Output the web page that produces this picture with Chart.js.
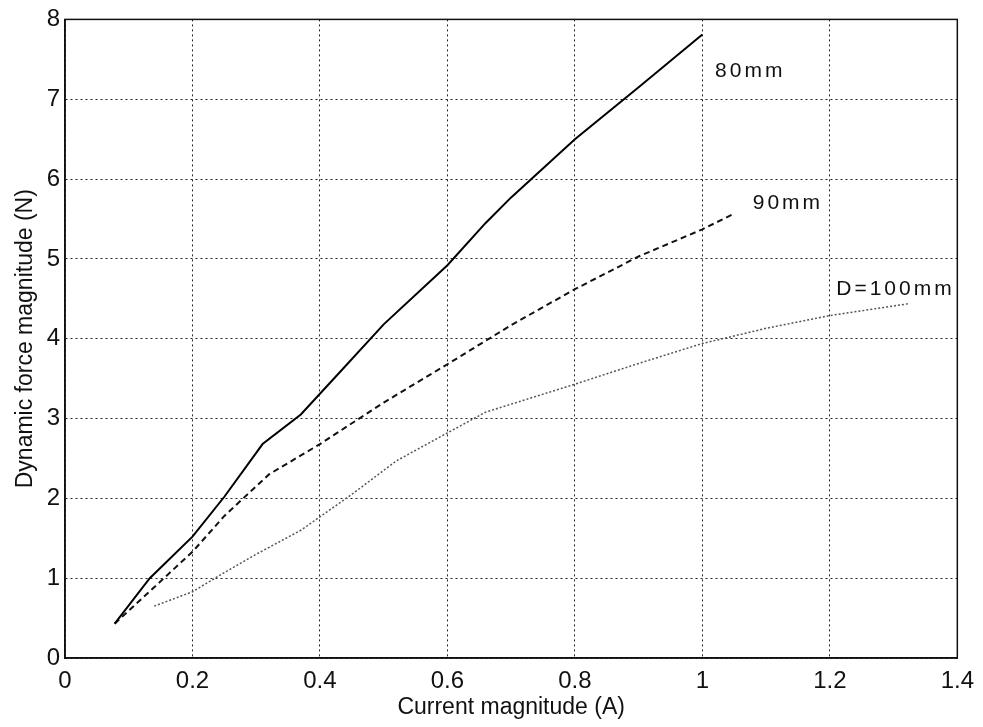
<!DOCTYPE html>
<html>
<head>
<meta charset="utf-8">
<script src="https://cdn.jsdelivr.net/npm/chart.js@4.4.1/dist/chart.umd.min.js"></script>
<style>
  html,body{margin:0;padding:0;background:#fff;}
  #wrap{width:983px;height:727px;position:relative;}
</style>
</head>
<body>
<div id="wrap"><canvas id="cv" width="983" height="727"></canvas></div>
<script>
/* force vs current, three coil spacings */
const current80 = [0.078, 0.133, 0.2, 0.25, 0.31, 0.37, 0.43, 0.5, 0.6, 0.66, 0.7, 0.8, 0.9, 1.0];
const force80   = [0.43, 1.0, 1.52, 2.02, 2.68, 3.05, 3.57, 4.18, 4.92, 5.45, 5.77, 6.5, 7.15, 7.81];

const current90 = [0.078, 0.2, 0.25, 0.32, 0.4, 0.5, 0.6, 0.7, 0.8, 0.9, 1.0, 1.048];
const force90   = [0.43, 1.33, 1.78, 2.3, 2.68, 3.2, 3.68, 4.17, 4.62, 5.03, 5.37, 5.56];

const current100 = [0.14, 0.2, 0.25, 0.3, 0.37, 0.45, 0.52, 0.6, 0.66, 0.8, 0.9, 1.0, 1.1, 1.2, 1.325];
const force100   = [0.65, 0.83, 1.07, 1.3, 1.6, 2.05, 2.47, 2.82, 3.08, 3.43, 3.69, 3.94, 4.13, 4.29, 4.44];

const seriesNames = ['80mm', '90mm', 'D=100mm'];
// where each curve name sits, in data units (left edge, middle)
const nameAt = [[1.02, 7.35], [1.079, 5.7], [1.21, 4.62]];

const xTicks = [0, 0.2, 0.4, 0.6, 0.8, 1, 1.2, 1.4];
const yTicks = [0, 1, 2, 3, 4, 5, 6, 7, 8];

const FONT = "'Liberation Sans', Arial, sans-serif";

function pts(xs, ys){ return xs.map((x,i)=>({x:x, y:ys[i]})); }

/* box round the axes plus the curve names */
const framePlugin = {
  id:'frame',
  afterDraw(chart){
    const {ctx, chartArea:a, scales} = chart;
    ctx.save();
    ctx.strokeStyle = '#111';
    ctx.lineWidth = 1.5;
    ctx.strokeRect(a.left, a.top, a.right - a.left, a.bottom - a.top);
    ctx.fillStyle = '#111';
    ctx.font = '21px ' + FONT;
    ctx.letterSpacing = '3px';
    ctx.textBaseline = 'middle';
    ctx.textAlign = 'left';
    seriesNames.forEach((n,i)=>{
      ctx.fillText(n, scales.x.getPixelForValue(nameAt[i][0]), scales.y.getPixelForValue(nameAt[i][1]));
    });
    ctx.restore();
  }
};

new Chart(document.getElementById('cv'), {
  type:'line',
  data:{ datasets:[
    { label:seriesNames[0], data:pts(current80, force80), borderColor:'#000', borderWidth:2, pointRadius:0, tension:0 },
    { label:seriesNames[1], data:pts(current90, force90), borderColor:'#111', borderWidth:2, borderDash:[6,4], pointRadius:0, tension:0 },
    { label:seriesNames[2], data:pts(current100, force100), borderColor:'#555', borderWidth:1.5, borderDash:[2,2], pointRadius:0, tension:0 }
  ]},
  options:{
    responsive:false,
    animation:false,
    layout:{ padding:{ top:18, right:23, left:0, bottom:0 } },
    plugins:{ legend:{display:false}, tooltip:{enabled:false} },
    scales:{
      x:{
        type:'linear', min:0, max:1.4,
        afterBuildTicks: s => { s.ticks = xTicks.map(v=>({value:v})); },
        afterFit: s => { s.height = 69; },
        ticks:{ color:'#111', padding:9, maxRotation:0, font:{family:FONT, size:24},
                callback: v => String(+v.toFixed(1)) },
        grid:{ color:'#222', lineWidth:1, drawTicks:false },
        border:{ display:true, color:'#111', width:1.5, dash:[2,3] },
        title:{ display:true, text:'Current magnitude (A)', color:'#111',
                font:{family:FONT, size:23}, padding:{top:0, bottom:6} }
      },
      y:{
        type:'linear', min:0, max:8,
        afterBuildTicks: s => { s.ticks = yTicks.map(v=>({value:v})); },
        afterFit: s => { s.width = 65; },
        ticks:{ color:'#111', padding:5, font:{family:FONT, size:24} },
        grid:{ color:'#222', lineWidth:1, drawTicks:false },
        border:{ display:true, color:'#111', width:1.5, dash:[2,3] },
        title:{ display:true, text:'Dynamic force magnitude (N)', color:'#111',
                font:{family:FONT, size:23}, padding:{top:12, bottom:0} }
      }
    }
  },
  plugins:[framePlugin]
});
</script>
</body>
</html>
